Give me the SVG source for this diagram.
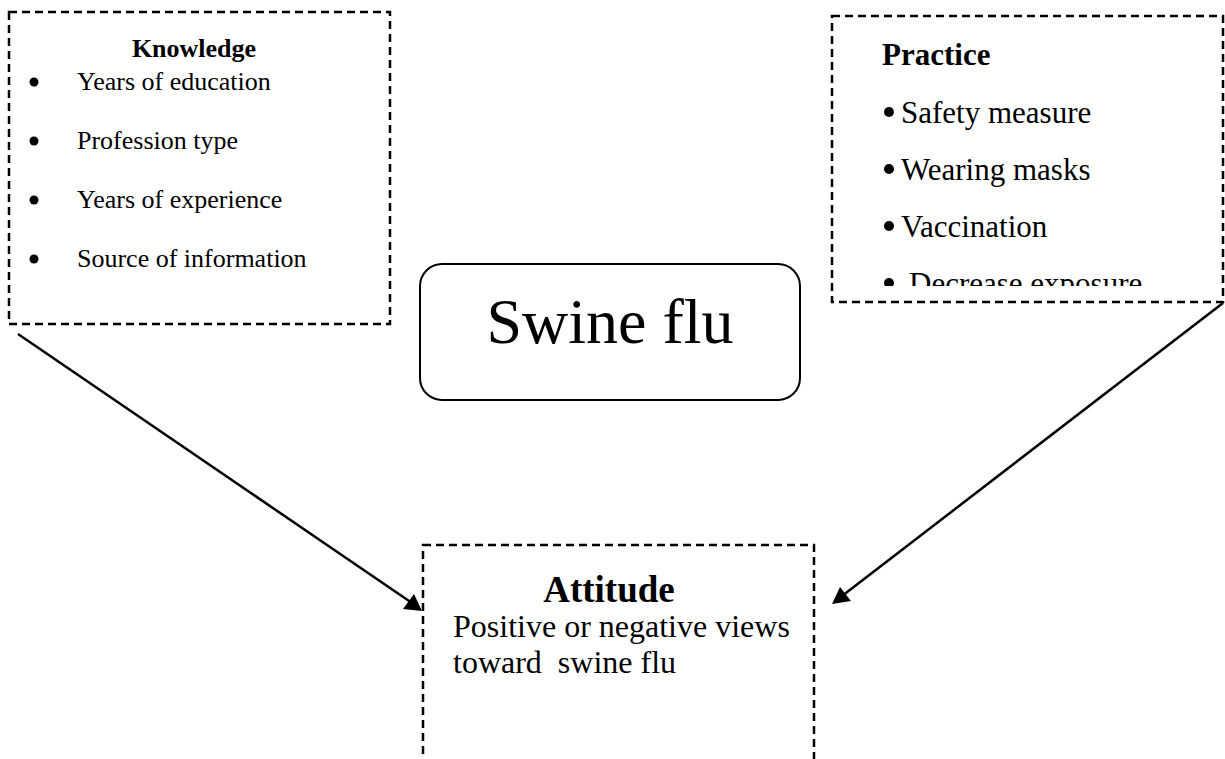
<svg xmlns="http://www.w3.org/2000/svg" width="1225" height="759" viewBox="0 0 1225 759">
  <style>
    .dash { fill: none; stroke: #000; stroke-width: 2.5; stroke-dasharray: 8 5; }
    .t { font-family: "Liberation Serif", "Times New Roman", serif; fill: #000; }
    .b { font-weight: bold; }
    .conn { stroke: #000; stroke-width: 2.5; fill: none; }
    .head { fill: #000; }
  </style>
  <defs>
    <clipPath id="pclip"><rect x="832" y="16" width="391" height="270"/></clipPath>
  </defs>
  <rect width="1225" height="759" fill="#fff"/>

  <g id="connectors">
    <line class="conn" x1="18" y1="334" x2="412" y2="603"/>
    <path class="head" d="M422,611 L403,609 L414,594 Z"/>
    <line class="conn" x1="1223" y1="303" x2="842" y2="596"/>
    <path class="head" d="M832,604 L840,587 L851,601 Z"/>
  </g>

  <g id="knowledge">
    <rect class="dash" x="9" y="12" width="381" height="312"/>
    <text class="t b" x="194" y="57" font-size="26" text-anchor="middle">Knowledge</text>
    <circle cx="34" cy="82" r="4.5"/>
    <text class="t" x="77" y="90" font-size="26">Years of education</text>
    <circle cx="34" cy="141" r="4.5"/>
    <text class="t" x="77" y="149" font-size="26">Profession type</text>
    <circle cx="34" cy="200" r="4.5"/>
    <text class="t" x="77" y="208" font-size="26">Years of experience</text>
    <circle cx="34" cy="259" r="4.5"/>
    <text class="t" x="77" y="267" font-size="26">Source of information</text>
  </g>

  <g id="practice">
    <rect class="dash" x="832" y="16" width="391" height="286"/>
    <text class="t b" x="882" y="65" font-size="31">Practice</text>
    <g clip-path="url(#pclip)">
      <circle cx="889" cy="112" r="5"/>
      <text class="t" x="901" y="123" font-size="31">Safety measure</text>
      <circle cx="889" cy="169" r="5"/>
      <text class="t" x="901" y="180" font-size="31">Wearing masks</text>
      <circle cx="889" cy="226" r="5"/>
      <text class="t" x="901" y="237" font-size="31">Vaccination</text>
      <circle cx="889" cy="283" r="5"/>
      <text class="t" x="909" y="294" font-size="31">Decrease exposure</text>
    </g>
  </g>

  <g id="swineflu">
    <rect x="420" y="264" width="380" height="136" rx="22" ry="22" fill="#fff" stroke="#000" stroke-width="2"/>
    <text class="t" x="610" y="343" font-size="64" text-anchor="middle">Swine flu</text>
  </g>

  <g id="attitude">
    <rect class="dash" x="423" y="545" width="391" height="240"/>
    <text class="t b" x="609" y="602" font-size="37" text-anchor="middle">Attitude</text>
    <text class="t" x="453" y="637" font-size="32">Positive or negative views</text>
    <text class="t" x="453" y="673" font-size="32" xml:space="preserve">toward  swine flu</text>
  </g>
</svg>
